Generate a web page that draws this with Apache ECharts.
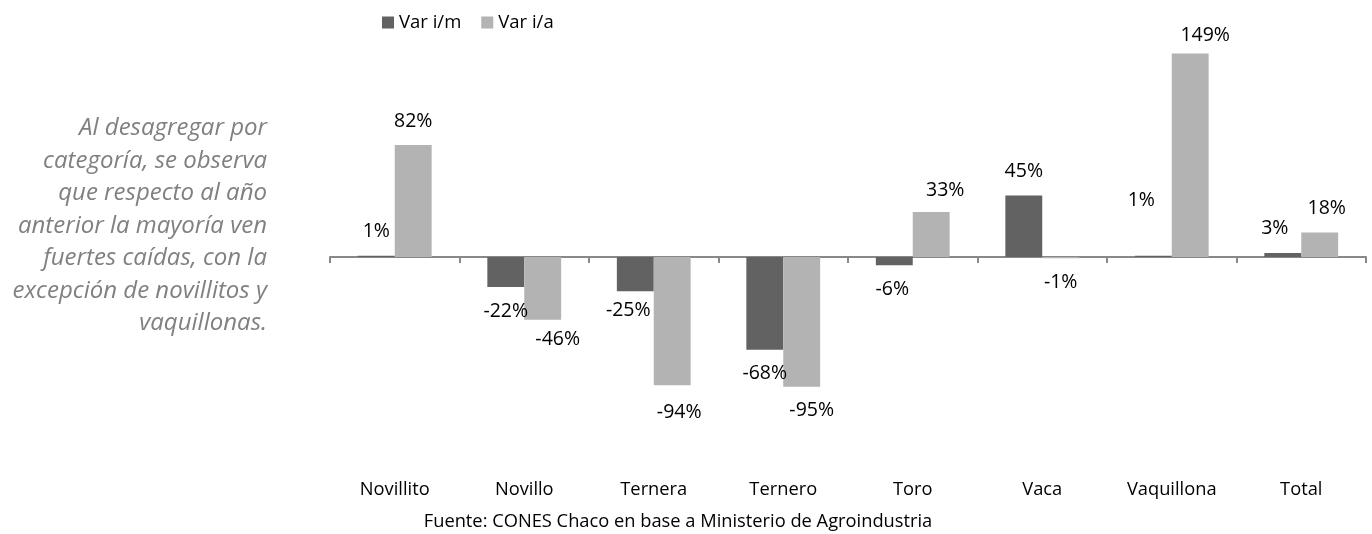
<!DOCTYPE html>
<html>
<head>
<meta charset="utf-8">
<script src="https://cdn.jsdelivr.net/npm/echarts@6/dist/echarts.min.js"></script>
<style>
  html, body { margin: 0; padding: 0; background: #fff; }
  #main { width: 1372px; height: 534px; }
</style>
</head>
<body>
<div id="main"></div>
<script>
// datos del gráfico
var categorias = ['Novillito', 'Novillo', 'Ternera', 'Ternero', 'Toro', 'Vaca', 'Vaquillona', 'Total']
var varMensual = [1, -22, -25, -68, -6, 45, 1, 3]
var varAnual = [82, -46, -94, -95, 33, -1, 149, 18]
var nombres = ['Var i/m', 'Var i/a']

// ajustes manuales de las etiquetas (como en la planilla)
var dxMensual = [0, 0, -7, 0, -2, 0, -12, -8]
var dyMensual = [0, 0, -5, 0, 0, 0, -31, 0]
var dxAnual = [0, 15, 7, 10, 14, 0, 15, 7]
var dyAnual = [0, -4, 3, 0, 2, 0, 6, 0]

var fuente = 'Open Sans'
var k = 1.365 // px por punto porcentual
var yMin = -110
var yMax = 160

function armarDatos (valores, dx, dy) {
  return valores.map(function (v, i) {
    return {
      value: v,
      label: {
        position: v >= 0 ? 'top' : 'bottom',
        offset: [dx[i], dy[i]]
      }
    }
  })
}

var chart = echarts.init(document.getElementById('main'))

var etiqueta = {
  show: true,
  distance: 14,
  color: '#000',
  fontFamily: fuente,
  fontSize: 19.5,
  formatter: function (p) { return p.value + '%' }
}

chart.setOption({
  animation: false,
  textStyle: { fontFamily: fuente },
  legend: {
    data: nombres,
    left: 377,
    top: 8,
    itemWidth: 12,
    itemHeight: 12,
    itemGap: 20,
    icon: 'rect',
    textStyle: { fontFamily: fuente, fontSize: 18.5, color: '#000' }
  },
  grid: {
    left: 330,
    right: 6,
    top: 257 - yMax * k,
    height: (yMax - yMin) * k
  },
  xAxis: [
    {
      type: 'category',
      data: categorias,
      axisLine: { onZero: true, lineStyle: { color: '#888', width: 2 } },
      axisTick: { show: true, length: 6, lineStyle: { color: '#888', width: 2 } },
      axisLabel: { show: false },
      splitLine: { show: false }
    },
    {
      type: 'category',
      data: categorias,
      position: 'bottom',
      axisLine: { show: false },
      axisTick: { show: false },
      axisLabel: { margin: 74, color: '#000', fontFamily: fuente, fontSize: 18.3 },
      splitLine: { show: false }
    }
  ],
  yAxis: {
    type: 'value',
    min: yMin,
    max: yMax,
    show: false,
    splitLine: { show: false }
  },
  series: [
    {
      name: nombres[0],
      type: 'bar',
      xAxisIndex: 0,
      barGap: 0,
      barCategoryGap: '43%',
      itemStyle: { color: '#626262' },
      label: etiqueta,
      data: armarDatos(varMensual, dxMensual, dyMensual)
    },
    {
      name: nombres[1],
      type: 'bar',
      xAxisIndex: 0,
      itemStyle: { color: '#b3b3b3' },
      label: etiqueta,
      data: armarDatos(varAnual, dxAnual, dyAnual)
    }
  ],
  graphic: [
    {
      type: 'text',
      x: 267,
      y: 112,
      style: {
        text: 'Al desagregar por\ncategoría, se observa\nque respecto al año\nanterior la mayoría ven\nfuertes caídas, con la\nexcepción de novillitos y\nvaquillonas.',
        align: 'right',
        textAlign: 'right',
        fill: '#808080',
        fontFamily: fuente,
        fontStyle: 'italic',
        fontSize: 24,
        lineHeight: 32.5
      }
    },
    {
      type: 'text',
      x: 678,
      y: 513,
      style: {
        text: 'Fuente: CONES Chaco en base a Ministerio de Agroindustria',
        align: 'center',
        textAlign: 'center',
        fill: '#000',
        fontFamily: fuente,
        fontSize: 18.3
      }
    }
  ]
})
</script>
</body>
</html>
